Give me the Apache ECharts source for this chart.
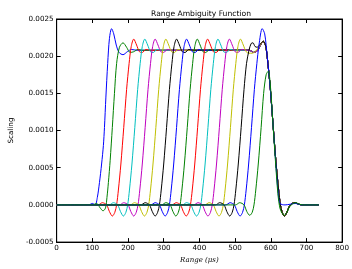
<!DOCTYPE html>
<html><head><meta charset="utf-8">
<script src="https://cdn.jsdelivr.net/npm/echarts@6/dist/echarts.min.js"></script>
<style>html,body{margin:0;padding:0;background:#fff}#c{width:352px;height:269px}</style>
</head><body><div id="c"></div>
<script>
const titleText = "Range Ambiguity Function";
const xLabel = "Range (μs)";
const yLabel = "Scaling";
const xTicks = [0,100,200,300,400,500,600,700,800];
const yTicks = [-0.0005,0,0.0005,0.0010,0.0015,0.0020,0.0025];
const colors = ["#0000ff","#008000","#ff0000","#00bfbf","#bf00bf","#bfbf00","#000000","#0000ff","#008000","#ff0000","#00bfbf","#bf00bf","#bfbf00","#000000","#0000ff","#008000"];

// shared falling edge where all curves coincide
const fallTail = [[540,0.00208],[552,0.00205],[562,0.00207],[570,0.00214],[579,0.0022],[586,0.00213],[592,0.0019],[599,0.00155],[607,0.00104],[615,0.00055],[622,0.0002],[627,0],[632,-0.0001],[638,-0.00015],[645,-0.0001],[652,-0.00002],[660,0.00002],[668,0.00003],[678,0.00001],[688,0],[735,0]];

const curve0 = [[0,0],[90,0],[100,0.00002],[108,0],[114,0.0001],[120,0.0003],[126,0.00055],[131,0.0008],[134,0.00104],[138,0.00145],[143,0.0019],[148,0.00224],[154,0.00237],[160,0.0023],[167,0.00215],[175,0.00205],[186,0.00202],[198,0.00206],[210,0.00209],[225,0.00208]];
const curve1 = [[0,0],[100,0],[112,0.00002],[122,-0.00004],[130,-0.00008],[137,-0.00004],[141,0.0001],[145,0.0003],[150,0.0006],[156,0.00104],[162,0.0015],[168,0.0019],[176,0.00212],[186,0.00218],[196,0.00212],[206,0.00205],[216,0.00206],[228,0.00209],[240,0.00208]];
const curve2 = [[0,0],[116,0],[128,0.00003],[140,0],[148,-0.00009],[156,-0.00015],[163,-0.0001],[168,0],[173,0.0002],[180,0.00055],[188,0.00104],[196,0.00155],[203,0.0019],[209,0.00213],[216,0.00223],[224,0.00215],[232,0.00206],[240,0.00205],[250,0.00209],[263,0.00208]];
const curve3 = [[0,0],[147,0],[159,0.00003],[171,0],[179,-0.00009],[187,-0.00015],[194,-0.0001],[199,0],[204,0.0002],[211,0.00055],[219,0.00104],[227,0.00155],[234,0.0019],[240,0.00213],[247,0.00223],[255,0.00215],[263,0.00206],[271,0.00205],[281,0.00209],[294,0.00208]];
const curve4 = [[0,0],[176,0],[188,0.00003],[200,0],[208,-0.00009],[216,-0.00015],[223,-0.0001],[228,0],[233,0.0002],[240,0.00055],[248,0.00104],[256,0.00155],[263,0.0019],[269,0.00213],[276,0.00223],[284,0.00215],[292,0.00206],[300,0.00205],[310,0.00209],[323,0.00208]];
const curve5 = [[0,0],[206,0],[218,0.00003],[230,0],[238,-0.00009],[246,-0.00015],[253,-0.0001],[258,0],[263,0.0002],[270,0.00055],[278,0.00104],[286,0.00155],[293,0.0019],[299,0.00213],[306,0.00223],[314,0.00215],[322,0.00206],[330,0.00205],[340,0.00209],[353,0.00208]];
const curve6 = [[0,0],[236,0],[248,0.00003],[260,0],[268,-0.00009],[276,-0.00015],[283,-0.0001],[288,0],[293,0.0002],[300,0.00055],[308,0.00104],[316,0.00155],[323,0.0019],[329,0.00213],[336,0.00223],[344,0.00215],[352,0.00206],[360,0.00205],[370,0.00209],[383,0.00208]];
const curve7 = [[0,0],[264,0],[276,0.00003],[288,0],[296,-0.00009],[304,-0.00015],[311,-0.0001],[316,0],[321,0.0002],[328,0.00055],[336,0.00104],[344,0.00155],[351,0.0019],[357,0.00213],[364,0.00223],[372,0.00215],[380,0.00206],[388,0.00205],[398,0.00209],[411,0.00208]];
const curve8 = [[0,0],[294,0],[306,0.00003],[318,0],[326,-0.00009],[334,-0.00015],[341,-0.0001],[346,0],[351,0.0002],[358,0.00055],[366,0.00104],[374,0.00155],[381,0.0019],[387,0.00213],[394,0.00223],[402,0.00215],[410,0.00206],[418,0.00205],[428,0.00209],[441,0.00208]];
const curve9 = [[0,0],[323,0],[335,0.00003],[347,0],[355,-0.00009],[363,-0.00015],[370,-0.0001],[375,0],[380,0.0002],[387,0.00055],[395,0.00104],[403,0.00155],[410,0.0019],[416,0.00213],[423,0.00223],[431,0.00215],[439,0.00206],[447,0.00205],[457,0.00209],[470,0.00208]];
const curve10 = [[0,0],[352,0],[364,0.00003],[376,0],[384,-0.00009],[392,-0.00015],[399,-0.0001],[404,0],[409,0.0002],[416,0.00055],[424,0.00104],[432,0.00155],[439,0.0019],[445,0.00213],[452,0.00223],[460,0.00215],[468,0.00206],[476,0.00205],[486,0.00209],[499,0.00208]];
const curve11 = [[0,0],[384,0],[396,0.00003],[408,0],[416,-0.00009],[424,-0.00015],[431,-0.0001],[436,0],[441,0.0002],[448,0.00055],[456,0.00104],[464,0.00155],[471,0.0019],[477,0.00213],[484,0.00223],[492,0.00215],[500,0.00206],[508,0.00205],[518,0.00209],[531,0.00208]];
const curve12 = [[0,0],[415,0],[427,0.00003],[439,0],[447,-0.00009],[455,-0.00015],[462,-0.0001],[467,0],[472,0.0002],[479,0.00055],[487,0.00104],[495,0.00155],[502,0.0019],[508,0.00213],[515,0.00223],[523,0.00215],[531,0.00206],[539,0.00204],[548,0.00204],[558,0.00207],[566,0.00212],[572,0.00216]];
const curve13 = [[0,0],[445,0],[457,0.00003],[469,0],[477,-0.00009],[485,-0.00015],[492,-0.0001],[497,0],[502,0.0002],[509,0.00055],[517,0.00104],[525,0.00155],[532,0.0019],[539,0.00208],[545,0.00217],[550,0.00218],[556,0.00213],[562,0.00212],[570,0.00216]];
const curve14 = [[0,0],[474,0],[486,0.00003],[498,0],[506,-0.00009],[514,-0.00015],[521,-0.0001],[526,0],[531,0.0002],[538,0.00055],[546,0.00104],[554,0.00155],[561,0.0019],[567,0.00215],[576,0.00237],[583,0.0023],[590,0.002],[598,0.0016],[607,0.00104],[615,0.0005],[621,0.00015],[626,0.00002],[640,0],[655,0.00001],[670,0.00002],[685,0],[735,0]];
const curve15 = [[0,0],[501,0],[513,0.00003],[525,0],[533,-0.00009],[541,-0.00014],[548,-0.0001],[553,0],[558,0.0002],[565,0.00055],[573,0.00104],[580,0.0015],[587,0.00175],[593,0.0018],[599,0.0016],[606,0.0011],[613,0.0006],[620,0.00015],[626,-0.00005],[633,-0.00012],[638,-0.00014],[645,-0.0001],[652,-0.00003],[660,0.00001],[670,0.00003],[680,0.00001],[690,0],[735,0]];

const curves = [curve0,curve1,curve2,curve3,curve4,curve5,curve6,curve7,curve8,curve9,curve10,curve11,curve12,curve13,curve14,curve15];

function withTail(c){
  const last = c[c.length-1][0];
  if (last >= 735) return c;
  return c.concat(fallTail.filter(p => p[0] > last));
}

const chart = echarts.init(document.getElementById('c'), null, {renderer:'canvas'});
const tickStyle = {show:true, inside:true, length:4, lineStyle:{color:'#000', width:1}};
const lineStyleAx = {show:true, onZero:false, lineStyle:{color:'#000', width:1}};
const lblFont = {fontFamily:'DejaVu Sans', fontSize:7.2, color:'#000'};
chart.setOption({
  animation:false,
  backgroundColor:'#fff',
  title:{text:titleText, left:196, top:5, textAlign:'center', textStyle:{fontFamily:'DejaVu Sans', fontSize:7.6, fontWeight:'normal', color:'#000'}},
  grid:{left:48, right:8, top:19, bottom:19, show:true, borderColor:'#000', borderWidth:1, backgroundColor:'#fff'},
  xAxis:[
    {type:'value', position:'bottom', min:xTicks[0], max:xTicks[xTicks.length-1], interval:100,
     axisLine:lineStyleAx, axisTick:tickStyle, splitLine:{show:false},
     axisLabel:Object.assign({margin:3}, lblFont),
     name:xLabel, nameLocation:'middle', nameGap:12,
     nameTextStyle:{fontFamily:'DejaVu Serif', fontStyle:'italic', fontSize:7, color:'#000'}},
    {type:'value', position:'top', min:xTicks[0], max:xTicks[xTicks.length-1], interval:100,
     axisLine:lineStyleAx, axisTick:tickStyle, splitLine:{show:false}, axisLabel:{show:false}}
  ],
  yAxis:[
    {type:'value', position:'left', min:yTicks[0], max:yTicks[yTicks.length-1], interval:0.0005,
     axisLine:lineStyleAx, axisTick:tickStyle, splitLine:{show:false},
     axisLabel:Object.assign({margin:3, formatter:v=>v.toFixed(4)}, lblFont),
     name:yLabel, nameLocation:'middle', nameGap:33, nameRotate:90,
     nameTextStyle:{fontFamily:'DejaVu Sans', fontSize:7.2, color:'#000'}},
    {type:'value', position:'right', min:yTicks[0], max:yTicks[yTicks.length-1], interval:0.0005,
     axisLine:lineStyleAx, axisTick:tickStyle, splitLine:{show:false}, axisLabel:{show:false}}
  ],
  series: curves.map((c,i)=>({
    type:'line', xAxisIndex:0, yAxisIndex:0, data:withTail(c), showSymbol:false, symbol:'none',
    smooth:0.3, lineStyle:{color:colors[i], width:1}, itemStyle:{color:colors[i]}, silent:true
  }))
});
</script></body></html>
